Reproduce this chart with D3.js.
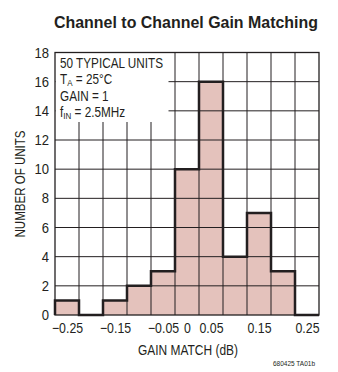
<!DOCTYPE html>
<html>
<head>
<meta charset="utf-8">
<script src="https://cdn.jsdelivr.net/npm/d3@7"></script>
<style>
  body { margin: 0; background: #fff; }
  svg text { font-family: "Liberation Sans", Arial, sans-serif; fill: #231f20; }
</style>
</head>
<body>
<script>
// bin centres (dB) and counts
var binCenters = [-0.25, -0.2, -0.15, -0.1, -0.05, 0, 0.05, 0.1, 0.15, 0.2, 0.25];
var counts     = [1, 0, 1, 2, 3, 10, 16, 4, 7, 3, 0];
var xTickVals  = [-0.25, -0.15, -0.05, 0, 0.05, 0.15, 0.25];
var xTickText  = ["\u22120.25", "\u22120.15", "\u22120.05", "0", "0.05", "0.15", "0.25"];
var yTicks     = [0, 2, 4, 6, 8, 10, 12, 14, 16, 18];
var binWidth   = 0.05;

var W = 338, H = 372;
var margin = { left: 55, right: 19, top: 52.5, bottom: 57 };
var w = W - margin.left - margin.right;
var h = H - margin.top - margin.bottom;
var ink = "#231f20";
var narrow = 0.84; // no condensed font installed, squeeze horizontally

var svg = d3.select("body").append("svg")
    .attr("width", W)
    .attr("height", H);

var x = d3.scaleLinear().domain([-0.275, 0.275]).range([0, w]);
var y = d3.scaleLinear().domain([0, 18]).range([h, 0]);

// squeeze a text element to k of its natural width
function squeeze(sel, k) {
    sel.each(function() {
        var len = this.getComputedTextLength();
        d3.select(this).attr("textLength", len * k).attr("lengthAdjust", "spacingAndGlyphs");
    });
}

svg.append("text")
    .attr("x", 186).attr("y", 28)
    .attr("text-anchor", "middle")
    .attr("font-size", 17).attr("font-weight", "bold")
    .attr("textLength", 264).attr("lengthAdjust", "spacingAndGlyphs")
    .text("Channel to Channel Gain Matching");

var g = svg.append("g")
    .attr("transform", "translate(" + margin.left + "," + margin.top + ")");

// bars (fill only)
g.append("g").selectAll("rect")
    .data(binCenters)
    .enter()
    .append("rect")
    .attr("x", (d) => x(d - binWidth / 2))
    .attr("width", (d) => x(d + binWidth / 2) - x(d - binWidth / 2))
    .attr("y", (d, i) => y(counts[i]))
    .attr("height", (d, i) => y(0) - y(counts[i]))
    .attr("fill", "#e4c2bc");

// grid
var edges = binCenters.slice(1).map((d) => d - binWidth / 2);
g.append("g").selectAll("line")
    .data(edges)
    .enter()
    .append("line")
    .attr("x1", (d) => x(d)).attr("x2", (d) => x(d))
    .attr("y1", 0).attr("y2", h)
    .attr("stroke", ink).attr("stroke-width", 1);
g.append("g").selectAll("line")
    .data(yTicks.slice(1, -1))
    .enter()
    .append("line")
    .attr("x1", 0).attr("x2", w)
    .attr("y1", (d) => y(d)).attr("y2", (d) => y(d))
    .attr("stroke", ink).attr("stroke-width", 1);

// legend box covers the grid
g.append("rect")
    .attr("x", 0.5).attr("y", 0.5)
    .attr("width", 113).attr("height", 69)
    .attr("fill", "#fff");

function legLine(yy) {
    return g.append("g")
        .attr("transform", "translate(5," + yy + ") scale(" + narrow + ",1)")
        .append("text").attr("font-size", 14);
}
legLine(15).text("50 TYPICAL UNITS");
var l2 = legLine(31.5);
l2.append("tspan").text("T");
l2.append("tspan").attr("font-size", 9.5).attr("dy", 1.5).text("A");
l2.append("tspan").attr("dy", -1.5).text(" = 25\u00b0C");
legLine(48).text("GAIN = 1");
var l4 = legLine(64.5);
l4.append("tspan").text("f");
l4.append("tspan").attr("font-size", 9.5).attr("dy", 1.5).text("IN");
l4.append("tspan").attr("dy", -1.5).text(" = 2.5MHz");

// histogram envelope
var pts = [[x(binCenters[0] - binWidth / 2), y(0)]];
binCenters.forEach(function(c, i) {
    pts.push([x(c - binWidth / 2), y(counts[i])]);
    pts.push([x(c + binWidth / 2), y(counts[i])]);
});
pts.push([x(binCenters[binCenters.length - 1] + binWidth / 2), y(0)]);
g.append("path")
    .attr("d", d3.line()(pts))
    .attr("fill", "none")
    .attr("stroke", ink)
    .attr("stroke-width", 2.5)
    .attr("stroke-linejoin", "miter");

// frame
g.append("rect")
    .attr("x", 0).attr("y", 0).attr("width", w).attr("height", h)
    .attr("fill", "none").attr("stroke", ink).attr("stroke-width", 1.3);

// axes (labels only)
var xAxis = d3.axisBottom(x).tickValues(xTickVals).tickSize(0).tickPadding(8)
    .tickFormat((d, i) => xTickText[i]);
var gx = g.append("g").attr("transform", "translate(0," + h + ")").call(xAxis);
gx.select(".domain").remove();
gx.selectAll("text").attr("font-size", 14.5).attr("font-family", null).attr("fill", ink);
squeeze(gx.selectAll("text"), 0.85);

var yAxis = d3.axisLeft(y).tickValues(yTicks).tickSize(0).tickPadding(6);
var gy = g.append("g").call(yAxis);
gy.select(".domain").remove();
gy.selectAll("text").attr("font-size", 14.5).attr("font-family", null).attr("fill", ink);
squeeze(gy.selectAll("text"), 0.9);

svg.append("text")
    .attr("x", 188).attr("y", 355)
    .attr("text-anchor", "middle").attr("font-size", 14)
    .attr("textLength", 100).attr("lengthAdjust", "spacingAndGlyphs")
    .text("GAIN MATCH (dB)");

svg.append("text")
    .attr("transform", "translate(25,184) rotate(-90)")
    .attr("text-anchor", "middle").attr("font-size", 14)
    .attr("textLength", 107).attr("lengthAdjust", "spacingAndGlyphs")
    .text("NUMBER OF UNITS");

svg.append("text")
    .attr("x", 315).attr("y", 366)
    .attr("text-anchor", "end").attr("font-size", 7.5)
    .attr("fill", "#444")
    .attr("textLength", 42).attr("lengthAdjust", "spacingAndGlyphs")
    .text("680425 TA01b");
</script>
</body>
</html>
